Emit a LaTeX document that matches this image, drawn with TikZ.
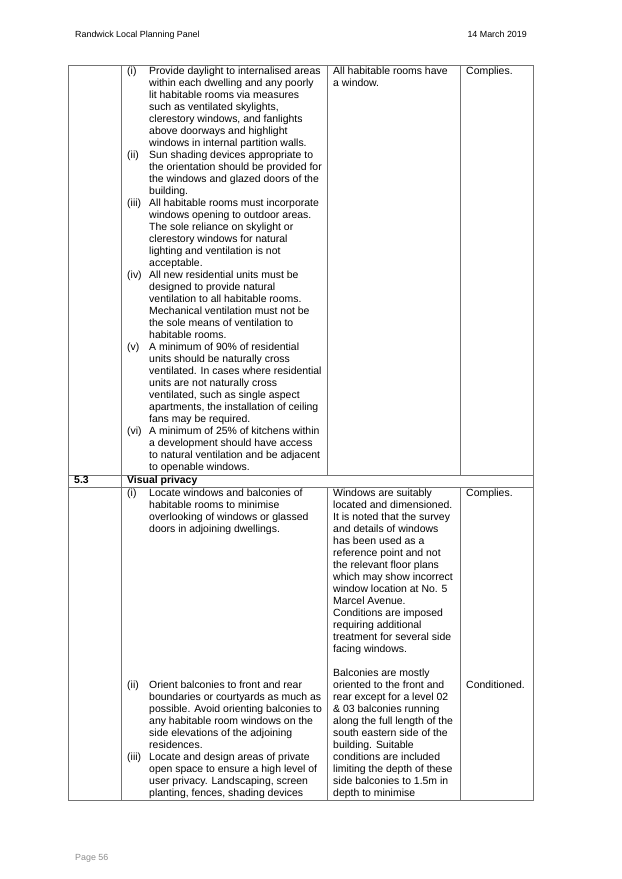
\documentclass[tikz,border=0pt]{standalone}
\usepackage{fontspec}
\setmainfont{Liberation Sans}
\usepackage{xcolor}
\definecolor{rulegray}{gray}{0.45}
\definecolor{footgray}{gray}{0.55}
\tikzset{
  txt/.style={anchor=north west, inner sep=0pt, align=left, font=\fontsize{10}{11.48}\selectfont},
  num/.style={txt},
  pagetxt/.style={anchor=north west, inner sep=0pt, font=\fontsize{8.5}{10}\selectfont},
  head/.style={anchor=north west, inner sep=0pt, font=\fontsize{10}{11.48}\selectfont\bfseries},
  grid/.style={rulegray, line width=0.6pt}
}
\begin{document}
\begin{tikzpicture}[x=0.9566pt, y=-0.9566pt]
        \useasboundingbox (0,0) rectangle (622,879);

        % page header and footer
        \node[pagetxt] (hdl) at (75,31) {Randwick Local Planning Panel};
        \node[pagetxt, anchor=north east] (hdr) at (527,31) {14 March 2019};
        \node[pagetxt, text=footgray] (foot) at (75,854) {Page 56};

        % table rules
        \draw [grid] (68,65) rectangle (533,800);
        \draw [grid] (68,475) -- (533,475);
        \draw [grid] (68,487) -- (533,487);
        \foreach \x in {327,460} {
            \draw [grid] (\x,65) -- (\x,475);
            \draw [grid] (\x,487) -- (\x,800);
        }
        \draw [grid] (121,65) -- (121,800);

        % first block
        \node[num] (n1) at (127,67) {(i)};
        \node[txt] (t1) at (149,67) {Provide daylight to internalised areas\\within each dwelling and any poorly\\lit habitable rooms via measures\\such as ventilated skylights,\\clerestory windows, and fanlights\\above doorways and highlight\\windows in internal partition walls.};
        \node[num] (n2) at (127,151) {(ii)};
        \node[txt] (t2) at (149,151) {Sun shading devices appropriate to\\the orientation should be provided for\\the windows and glazed doors of the\\building.};
        \node[num] (n3) at (127,199) {(iii)};
        \node[txt] (t3) at (149,199) {All habitable rooms must incorporate\\windows opening to outdoor areas.\\The sole reliance on skylight or\\clerestory windows for natural\\lighting and ventilation is not\\acceptable.};
        \node[num] (n4) at (127,271) {(iv)};
        \node[txt] (t4) at (149,271) {All new residential units must be\\designed to provide natural\\ventilation to all habitable rooms.\\Mechanical ventilation must not be\\the sole means of ventilation to\\habitable rooms.};
        \node[num] (n5) at (127,343) {(v)};
        \node[txt] (t5) at (149,343) {A minimum of 90\% of residential\\units should be naturally cross\\ventilated. In cases where residential\\units are not naturally cross\\ventilated, such as single aspect\\apartments, the installation of ceiling\\fans may be required.};
        \node[num] (n6) at (127,427) {(vi)};
        \node[txt] (t6) at (149,427) {A minimum of 25\% of kitchens within\\a development should have access\\to natural ventilation and be adjacent\\to openable windows.};
        \node[txt] (c1) at (333,67) {All habitable rooms have\\a window.};
        \node[txt] (s1) at (466,67) {Complies.};

        % visual privacy row
        \node[head] (sec) at (74,476) {5.3};
        \node[head] (sect) at (127,476) {Visual privacy};

        % second block
        \node[num] (m1) at (127,489) {(i)};
        \node[txt] (u1) at (149,489) {Locate windows and balconies of\\habitable rooms to minimise\\overlooking of windows or glassed\\doors in adjoining dwellings.};
        \node[num] (m2) at (127,681) {(ii)};
        \node[txt] (u2) at (149,681) {Orient balconies to front and rear\\boundaries or courtyards as much as\\possible. Avoid orienting balconies to\\any habitable room windows on the\\side elevations of the adjoining\\residences.};
        \node[num] (m3) at (127,753) {(iii)};
        \node[txt] (u3) at (149,753) {Locate and design areas of private\\open space to ensure a high level of\\user privacy. Landscaping, screen\\planting, fences, shading devices};
        \node[txt] (c2) at (333,489) {Windows are suitably\\located and dimensioned.\\It is noted that the survey\\and details of windows\\has been used as a\\reference point and not\\the relevant floor plans\\which may show incorrect\\window location at No. 5\\Marcel Avenue.\\Conditions are imposed\\requiring additional\\treatment for several side\\facing windows.};
        \node[txt] (c3) at (333,669) {Balconies are mostly\\oriented to the front and\\rear except for a level 02\\\& 03 balconies running\\along the full length of the\\south eastern side of the\\building. Suitable\\conditions are included\\limiting the depth of these\\side balconies to 1.5m in\\depth to minimise};
        \node[txt] (s2) at (466,489) {Complies.};
        \node[txt] (s3) at (466,681) {Conditioned.};
    \end{tikzpicture}
\end{document}
